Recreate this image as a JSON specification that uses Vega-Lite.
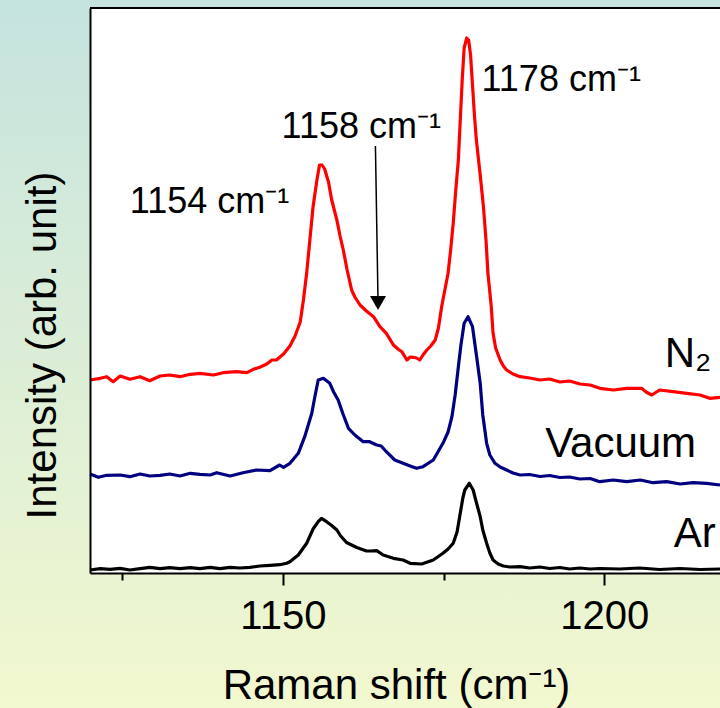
{
  "$schema": "https://vega.github.io/schema/vega-lite/v6.json",
  "width": 630,
  "height": 565,
  "autosize": {"type": "none"},
  "padding": {"left": 90, "top": 8, "right": 0, "bottom": 135},
  "background": "#dcedd6",
  "config": {"view": {"stroke": null}, "font": "Liberation Sans"},
  "datasets": {
    "frame": [{"name": "frame"}],
    "spectra": [
      {"shift":1120.0,"intensity":193,"gas":"N2"},{"shift":1121.6,"intensity":194.7,"gas":"N2"},{"shift":1122.6,"intensity":196.3,"gas":"N2"},{"shift":1123.6,"intensity":191.3,"gas":"N2"},{"shift":1124.7,"intensity":197,"gas":"N2"},{"shift":1126.2,"intensity":193.7,"gas":"N2"},{"shift":1127.8,"intensity":196.3,"gas":"N2"},{"shift":1129.3,"intensity":192.3,"gas":"N2"},{"shift":1130.9,"intensity":197,"gas":"N2"},{"shift":1132.4,"intensity":198,"gas":"N2"},{"shift":1134.0,"intensity":196.3,"gas":"N2"},{"shift":1135.6,"intensity":198.7,"gas":"N2"},{"shift":1137.1,"intensity":199.7,"gas":"N2"},{"shift":1139.2,"intensity":198,"gas":"N2"},{"shift":1140.7,"intensity":200.3,"gas":"N2"},{"shift":1142.8,"intensity":201.3,"gas":"N2"},{"shift":1144.4,"intensity":200.3,"gas":"N2"},{"shift":1145.4,"intensity":203.7,"gas":"N2"},{"shift":1146.4,"intensity":205.7,"gas":"N2"},{"shift":1147.5,"intensity":209,"gas":"N2"},{"shift":1148.3,"intensity":213,"gas":"N2"},{"shift":1149.0,"intensity":213,"gas":"N2"},{"shift":1150.1,"intensity":219,"gas":"N2"},{"shift":1151.1,"intensity":227,"gas":"N2"},{"shift":1151.9,"intensity":237,"gas":"N2"},{"shift":1152.7,"intensity":251,"gas":"N2"},{"shift":1153.2,"intensity":273,"gas":"N2"},{"shift":1153.7,"intensity":299.7,"gas":"N2"},{"shift":1154.2,"intensity":333,"gas":"N2"},{"shift":1154.7,"intensity":366.3,"gas":"N2"},{"shift":1155.3,"intensity":393,"gas":"N2"},{"shift":1155.7,"intensity":408,"gas":"N2"},{"shift":1156.1,"intensity":408,"gas":"N2"},{"shift":1156.5,"intensity":404,"gas":"N2"},{"shift":1157.1,"intensity":391,"gas":"N2"},{"shift":1157.6,"intensity":373,"gas":"N2"},{"shift":1158.4,"intensity":353,"gas":"N2"},{"shift":1158.9,"intensity":337,"gas":"N2"},{"shift":1159.4,"intensity":323,"gas":"N2"},{"shift":1160.0,"intensity":303,"gas":"N2"},{"shift":1160.7,"intensity":283,"gas":"N2"},{"shift":1161.2,"intensity":276,"gas":"N2"},{"shift":1162.0,"intensity":268,"gas":"N2"},{"shift":1163.0,"intensity":262,"gas":"N2"},{"shift":1164.1,"intensity":256.3,"gas":"N2"},{"shift":1165.1,"intensity":246.3,"gas":"N2"},{"shift":1166.1,"intensity":239.7,"gas":"N2"},{"shift":1167.2,"intensity":228,"gas":"N2"},{"shift":1167.9,"intensity":224,"gas":"N2"},{"shift":1168.5,"intensity":221.3,"gas":"N2"},{"shift":1169.3,"intensity":213,"gas":"N2"},{"shift":1169.8,"intensity":216,"gas":"N2"},{"shift":1170.3,"intensity":215.7,"gas":"N2"},{"shift":1170.8,"intensity":215,"gas":"N2"},{"shift":1171.3,"intensity":213,"gas":"N2"},{"shift":1171.8,"intensity":218,"gas":"N2"},{"shift":1172.4,"intensity":223,"gas":"N2"},{"shift":1173.0,"intensity":227,"gas":"N2"},{"shift":1173.7,"intensity":233,"gas":"N2"},{"shift":1174.2,"intensity":245,"gas":"N2"},{"shift":1174.7,"intensity":266.3,"gas":"N2"},{"shift":1175.2,"intensity":283,"gas":"N2"},{"shift":1175.7,"intensity":299.7,"gas":"N2"},{"shift":1176.1,"intensity":323,"gas":"N2"},{"shift":1176.5,"intensity":349.7,"gas":"N2"},{"shift":1176.9,"intensity":383,"gas":"N2"},{"shift":1177.3,"intensity":413,"gas":"N2"},{"shift":1177.6,"intensity":453,"gas":"N2"},{"shift":1177.9,"intensity":493,"gas":"N2"},{"shift":1178.2,"intensity":525,"gas":"N2"},{"shift":1178.6,"intensity":535,"gas":"N2"},{"shift":1178.9,"intensity":533,"gas":"N2"},{"shift":1179.2,"intensity":518,"gas":"N2"},{"shift":1179.5,"intensity":488,"gas":"N2"},{"shift":1179.8,"intensity":458,"gas":"N2"},{"shift":1180.1,"intensity":433,"gas":"N2"},{"shift":1180.7,"intensity":398,"gas":"N2"},{"shift":1181.2,"intensity":366.3,"gas":"N2"},{"shift":1181.6,"intensity":333,"gas":"N2"},{"shift":1181.9,"intensity":299.7,"gas":"N2"},{"shift":1182.4,"intensity":268,"gas":"N2"},{"shift":1182.7,"intensity":239.7,"gas":"N2"},{"shift":1183.1,"intensity":225,"gas":"N2"},{"shift":1183.8,"intensity":213,"gas":"N2"},{"shift":1184.3,"intensity":207,"gas":"N2"},{"shift":1184.8,"intensity":203,"gas":"N2"},{"shift":1185.8,"intensity":199,"gas":"N2"},{"shift":1186.9,"intensity":196.3,"gas":"N2"},{"shift":1188.4,"intensity":195,"gas":"N2"},{"shift":1190.0,"intensity":193,"gas":"N2"},{"shift":1191.5,"intensity":194,"gas":"N2"},{"shift":1193.1,"intensity":191,"gas":"N2"},{"shift":1194.6,"intensity":192,"gas":"N2"},{"shift":1196.2,"intensity":189,"gas":"N2"},{"shift":1197.8,"intensity":188,"gas":"N2"},{"shift":1199.3,"intensity":184.7,"gas":"N2"},{"shift":1201.4,"intensity":183,"gas":"N2"},{"shift":1203.5,"intensity":184.7,"gas":"N2"},{"shift":1205.8,"intensity":184.7,"gas":"N2"},{"shift":1206.5,"intensity":181,"gas":"N2"},{"shift":1207.4,"intensity":178,"gas":"N2"},{"shift":1208.6,"intensity":183,"gas":"N2"},{"shift":1210.7,"intensity":181.3,"gas":"N2"},{"shift":1212.8,"intensity":179.7,"gas":"N2"},{"shift":1214.9,"intensity":178,"gas":"N2"},{"shift":1216.4,"intensity":174.7,"gas":"N2"},{"shift":1218.0,"intensity":175.7,"gas":"N2"},
      {"shift":1120.0,"intensity":99,"gas":"Vacuum"},{"shift":1121.3,"intensity":95.7,"gas":"Vacuum"},{"shift":1122.6,"intensity":97.7,"gas":"Vacuum"},{"shift":1124.7,"intensity":98,"gas":"Vacuum"},{"shift":1126.2,"intensity":96.3,"gas":"Vacuum"},{"shift":1127.8,"intensity":99,"gas":"Vacuum"},{"shift":1129.3,"intensity":97,"gas":"Vacuum"},{"shift":1130.9,"intensity":97.7,"gas":"Vacuum"},{"shift":1132.4,"intensity":99,"gas":"Vacuum"},{"shift":1134.0,"intensity":97,"gas":"Vacuum"},{"shift":1135.6,"intensity":99.7,"gas":"Vacuum"},{"shift":1137.1,"intensity":98.7,"gas":"Vacuum"},{"shift":1138.7,"intensity":98,"gas":"Vacuum"},{"shift":1139.7,"intensity":100.3,"gas":"Vacuum"},{"shift":1141.8,"intensity":97,"gas":"Vacuum"},{"shift":1143.8,"intensity":100.3,"gas":"Vacuum"},{"shift":1145.9,"intensity":103,"gas":"Vacuum"},{"shift":1148.0,"intensity":102.3,"gas":"Vacuum"},{"shift":1149.5,"intensity":108,"gas":"Vacuum"},{"shift":1150.1,"intensity":105.7,"gas":"Vacuum"},{"shift":1151.1,"intensity":109.7,"gas":"Vacuum"},{"shift":1152.4,"intensity":119.7,"gas":"Vacuum"},{"shift":1153.4,"intensity":136.3,"gas":"Vacuum"},{"shift":1154.5,"intensity":159.7,"gas":"Vacuum"},{"shift":1155.0,"intensity":177,"gas":"Vacuum"},{"shift":1155.5,"intensity":193,"gas":"Vacuum"},{"shift":1156.3,"intensity":194.7,"gas":"Vacuum"},{"shift":1157.3,"intensity":189.7,"gas":"Vacuum"},{"shift":1157.9,"intensity":181,"gas":"Vacuum"},{"shift":1158.6,"intensity":173,"gas":"Vacuum"},{"shift":1159.3,"intensity":160,"gas":"Vacuum"},{"shift":1160.2,"intensity":144.7,"gas":"Vacuum"},{"shift":1161.2,"intensity":138,"gas":"Vacuum"},{"shift":1162.5,"intensity":131.3,"gas":"Vacuum"},{"shift":1163.5,"intensity":131.3,"gas":"Vacuum"},{"shift":1164.6,"intensity":128,"gas":"Vacuum"},{"shift":1165.3,"intensity":127,"gas":"Vacuum"},{"shift":1166.1,"intensity":121.3,"gas":"Vacuum"},{"shift":1167.4,"intensity":113,"gas":"Vacuum"},{"shift":1168.7,"intensity":109.7,"gas":"Vacuum"},{"shift":1169.8,"intensity":107,"gas":"Vacuum"},{"shift":1170.8,"intensity":104.7,"gas":"Vacuum"},{"shift":1171.8,"intensity":106.3,"gas":"Vacuum"},{"shift":1173.4,"intensity":113,"gas":"Vacuum"},{"shift":1174.9,"intensity":129.7,"gas":"Vacuum"},{"shift":1175.7,"intensity":141,"gas":"Vacuum"},{"shift":1176.3,"intensity":156.3,"gas":"Vacuum"},{"shift":1176.8,"intensity":178,"gas":"Vacuum"},{"shift":1177.3,"intensity":206.3,"gas":"Vacuum"},{"shift":1177.7,"intensity":228,"gas":"Vacuum"},{"shift":1178.2,"intensity":249.7,"gas":"Vacuum"},{"shift":1178.8,"intensity":256.3,"gas":"Vacuum"},{"shift":1179.5,"intensity":246.3,"gas":"Vacuum"},{"shift":1180.0,"intensity":223,"gas":"Vacuum"},{"shift":1180.7,"intensity":189.7,"gas":"Vacuum"},{"shift":1181.1,"intensity":158,"gas":"Vacuum"},{"shift":1181.7,"intensity":129.7,"gas":"Vacuum"},{"shift":1182.2,"intensity":118,"gas":"Vacuum"},{"shift":1183.0,"intensity":109.7,"gas":"Vacuum"},{"shift":1183.8,"intensity":106,"gas":"Vacuum"},{"shift":1184.8,"intensity":103,"gas":"Vacuum"},{"shift":1185.8,"intensity":100,"gas":"Vacuum"},{"shift":1186.9,"intensity":98,"gas":"Vacuum"},{"shift":1188.4,"intensity":98.5,"gas":"Vacuum"},{"shift":1190.0,"intensity":96.5,"gas":"Vacuum"},{"shift":1191.5,"intensity":97.5,"gas":"Vacuum"},{"shift":1193.1,"intensity":95.5,"gas":"Vacuum"},{"shift":1194.6,"intensity":96,"gas":"Vacuum"},{"shift":1196.2,"intensity":94,"gas":"Vacuum"},{"shift":1197.8,"intensity":94.5,"gas":"Vacuum"},{"shift":1199.3,"intensity":91.3,"gas":"Vacuum"},{"shift":1201.4,"intensity":93,"gas":"Vacuum"},{"shift":1203.5,"intensity":91.3,"gas":"Vacuum"},{"shift":1205.6,"intensity":93,"gas":"Vacuum"},{"shift":1207.6,"intensity":90.3,"gas":"Vacuum"},{"shift":1209.7,"intensity":91.3,"gas":"Vacuum"},{"shift":1211.8,"intensity":89,"gas":"Vacuum"},{"shift":1213.8,"intensity":90.3,"gas":"Vacuum"},{"shift":1215.9,"intensity":89.7,"gas":"Vacuum"},{"shift":1218.0,"intensity":88,"gas":"Vacuum"},
      {"shift":1120.0,"intensity":3,"gas":"Ar"},{"shift":1121.6,"intensity":4.3,"gas":"Ar"},{"shift":1123.1,"intensity":3.7,"gas":"Ar"},{"shift":1124.7,"intensity":4.7,"gas":"Ar"},{"shift":1126.2,"intensity":3,"gas":"Ar"},{"shift":1127.8,"intensity":4.3,"gas":"Ar"},{"shift":1129.3,"intensity":5.7,"gas":"Ar"},{"shift":1130.9,"intensity":4.3,"gas":"Ar"},{"shift":1132.4,"intensity":5.3,"gas":"Ar"},{"shift":1134.0,"intensity":4.3,"gas":"Ar"},{"shift":1135.6,"intensity":5.3,"gas":"Ar"},{"shift":1137.1,"intensity":4.3,"gas":"Ar"},{"shift":1138.7,"intensity":5.7,"gas":"Ar"},{"shift":1140.2,"intensity":4.3,"gas":"Ar"},{"shift":1141.8,"intensity":5.7,"gas":"Ar"},{"shift":1143.3,"intensity":5,"gas":"Ar"},{"shift":1144.9,"intensity":5.7,"gas":"Ar"},{"shift":1146.4,"intensity":7,"gas":"Ar"},{"shift":1148.0,"intensity":7.7,"gas":"Ar"},{"shift":1149.5,"intensity":8.3,"gas":"Ar"},{"shift":1150.6,"intensity":9.7,"gas":"Ar"},{"shift":1151.1,"intensity":11.3,"gas":"Ar"},{"shift":1152.4,"intensity":18,"gas":"Ar"},{"shift":1153.7,"intensity":29.7,"gas":"Ar"},{"shift":1154.7,"intensity":44,"gas":"Ar"},{"shift":1155.5,"intensity":51.3,"gas":"Ar"},{"shift":1156.0,"intensity":54.7,"gas":"Ar"},{"shift":1156.8,"intensity":51.3,"gas":"Ar"},{"shift":1157.5,"intensity":48,"gas":"Ar"},{"shift":1158.4,"intensity":43,"gas":"Ar"},{"shift":1159.0,"intensity":37,"gas":"Ar"},{"shift":1159.9,"intensity":30.5,"gas":"Ar"},{"shift":1161.5,"intensity":25.5,"gas":"Ar"},{"shift":1163.0,"intensity":22,"gas":"Ar"},{"shift":1163.7,"intensity":22,"gas":"Ar"},{"shift":1164.6,"intensity":22.3,"gas":"Ar"},{"shift":1165.6,"intensity":18,"gas":"Ar"},{"shift":1167.2,"intensity":14.7,"gas":"Ar"},{"shift":1168.7,"intensity":13,"gas":"Ar"},{"shift":1169.8,"intensity":9.7,"gas":"Ar"},{"shift":1171.6,"intensity":9,"gas":"Ar"},{"shift":1173.4,"intensity":13,"gas":"Ar"},{"shift":1174.9,"intensity":19.7,"gas":"Ar"},{"shift":1175.7,"intensity":24,"gas":"Ar"},{"shift":1176.5,"intensity":29.7,"gas":"Ar"},{"shift":1177.1,"intensity":41,"gas":"Ar"},{"shift":1177.5,"intensity":56.3,"gas":"Ar"},{"shift":1178.0,"intensity":75,"gas":"Ar"},{"shift":1178.3,"intensity":83,"gas":"Ar"},{"shift":1179.0,"intensity":89.7,"gas":"Ar"},{"shift":1179.6,"intensity":83,"gas":"Ar"},{"shift":1180.0,"intensity":73,"gas":"Ar"},{"shift":1180.7,"intensity":56.3,"gas":"Ar"},{"shift":1181.1,"intensity":43,"gas":"Ar"},{"shift":1181.7,"intensity":29.7,"gas":"Ar"},{"shift":1182.2,"intensity":20,"gas":"Ar"},{"shift":1182.7,"intensity":13,"gas":"Ar"},{"shift":1183.5,"intensity":9,"gas":"Ar"},{"shift":1184.3,"intensity":7,"gas":"Ar"},{"shift":1185.3,"intensity":6,"gas":"Ar"},{"shift":1186.9,"intensity":6.3,"gas":"Ar"},{"shift":1188.4,"intensity":5,"gas":"Ar"},{"shift":1190.0,"intensity":6,"gas":"Ar"},{"shift":1191.5,"intensity":4.5,"gas":"Ar"},{"shift":1193.1,"intensity":5.5,"gas":"Ar"},{"shift":1194.6,"intensity":4,"gas":"Ar"},{"shift":1196.2,"intensity":5,"gas":"Ar"},{"shift":1197.8,"intensity":4,"gas":"Ar"},{"shift":1199.3,"intensity":4.5,"gas":"Ar"},{"shift":1202.4,"intensity":4,"gas":"Ar"},{"shift":1205.5,"intensity":5,"gas":"Ar"},{"shift":1208.6,"intensity":3.5,"gas":"Ar"},{"shift":1211.8,"intensity":4.5,"gas":"Ar"},{"shift":1214.9,"intensity":3.5,"gas":"Ar"},{"shift":1218.0,"intensity":4,"gas":"Ar"}
    ],
    "peaks": [
      {"shift":1126.2,"intensity":360,"label":"1154 cm⁻¹"},
      {"shift":1149.8,"intensity":435,"label":"1158 cm⁻¹"},
      {"shift":1180.9,"intensity":482.5,"label":"1178 cm⁻¹"}
    ],
    "gases": [
      {"shift":1209.4,"intensity":206,"label":"N₂"},
      {"shift":1190.8,"intensity":116,"label":"Vacuum"},
      {"shift":1210.8,"intensity":26,"label":"Ar"}
    ],
    "arrow": [
      {"shift":1164.4,"intensity":427,"shift_end":1164.8,"intensity_end":273}
    ],
    "arrowhead": [
      {"shift":1164.8,"intensity":270}
    ]
  },
  "layer": [
    {
      "data": {"name": "frame"},
      "mark": {"type": "rect", "clip": false, "fill": {"gradient": "linear", "x1": 0, "y1": 0, "x2": 0, "y2": 1, "stops": [{"offset": 0, "color": "#c5e3df"}, {"offset": 1, "color": "#f2f8cf"}]}},
      "encoding": {
        "x": {"datum": 1106, "type": "quantitative", "scale": {"domain": [1120, 1218], "nice": false, "zero": false}},
        "x2": {"datum": 1218},
        "y": {"datum": 573, "type": "quantitative", "scale": {"domain": [0, 565], "nice": false, "zero": false}},
        "y2": {"datum": -135}
      }
    },
    {
      "data": {"name": "frame"},
      "mark": {"type": "rect", "fill": "white", "clip": false},
      "encoding": {
        "x": {"datum": 1120, "type": "quantitative"},
        "x2": {"datum": 1218},
        "y": {"datum": 0, "type": "quantitative"},
        "y2": {"datum": 565}
      }
    },
    {
      "data": {"name": "frame"},
      "mark": {"type": "rule", "color": "black", "strokeWidth": 2},
      "encoding": {
        "x": {"datum": 1120, "type": "quantitative"},
        "x2": {"datum": 1218},
        "y": {"datum": 565, "type": "quantitative"}
      }
    },
    {
      "data": {"name": "spectra"},
      "mark": {"type": "line", "strokeWidth": 3.2, "strokeJoin": "round"},
      "encoding": {
        "x": {
          "field": "shift", "type": "quantitative",
          "scale": {"domain": [1120, 1218], "nice": false, "zero": false},
          "axis": {
            "zindex": 2,
            "values": [1125, 1150, 1175, 1200],
            "format": "d",
            "labelExpr": "datum.value % 50 === 0 ? datum.label : ''",
            "tickSize": {"condition": {"test": "datum.value % 50 === 0", "value": 12}, "value": 7},
            "tickColor": "black", "tickWidth": 2,
            "domainColor": "black", "domainWidth": 2,
            "grid": false,
            "labelFontSize": 40, "labelColor": "black", "labelPadding": 11,
            "labelFlush": false, "labelOverlap": false,
            "title": "Raman shift (cm⁻¹)",
            "titleFontSize": 42, "titleFontWeight": "normal", "titleColor": "black",
            "titleX": 306, "titleY": 125, "titleBaseline": "alphabetic", "titleAlign": "center"
          }
        },
        "y": {
          "field": "intensity", "type": "quantitative",
          "scale": {"domain": [0, 565], "nice": false, "zero": false},
          "axis": {
            "zindex": 2,
            "ticks": false, "labels": false, "grid": false,
            "domainColor": "black", "domainWidth": 2,
            "title": "Intensity (arb. unit)",
            "titleFontSize": 42, "titleFontWeight": "normal", "titleColor": "black",
            "titleAngle": 270, "titleX": -35, "titleY": 337, "titleBaseline": "alphabetic", "titleAlign": "center"
          }
        },
        "color": {"field": "gas", "type": "nominal", "scale": {"domain": ["N2", "Vacuum", "Ar"], "range": ["#ff0000", "#000080", "#000000"]}, "legend": null}
      }
    },
    {
      "data": {"name": "arrow"},
      "mark": {"type": "rule", "color": "black", "strokeWidth": 1.5},
      "encoding": {
        "x": {"field": "shift", "type": "quantitative"},
        "y": {"field": "intensity", "type": "quantitative"},
        "x2": {"field": "shift_end"},
        "y2": {"field": "intensity_end"}
      }
    },
    {
      "data": {"name": "arrowhead"},
      "mark": {"type": "point", "shape": "triangle-down", "filled": true, "color": "black", "size": 256, "opacity": 1},
      "encoding": {
        "x": {"field": "shift", "type": "quantitative"},
        "y": {"field": "intensity", "type": "quantitative"}
      }
    },
    {
      "data": {"name": "peaks"},
      "mark": {"type": "text", "align": "left", "baseline": "alphabetic", "fontSize": 36, "color": "black"},
      "encoding": {
        "x": {"field": "shift", "type": "quantitative"},
        "y": {"field": "intensity", "type": "quantitative"},
        "text": {"field": "label"}
      }
    },
    {
      "data": {"name": "gases"},
      "mark": {"type": "text", "align": "left", "baseline": "alphabetic", "fontSize": 42, "color": "black"},
      "encoding": {
        "x": {"field": "shift", "type": "quantitative"},
        "y": {"field": "intensity", "type": "quantitative"},
        "text": {"field": "label"}
      }
    }
  ]
}
